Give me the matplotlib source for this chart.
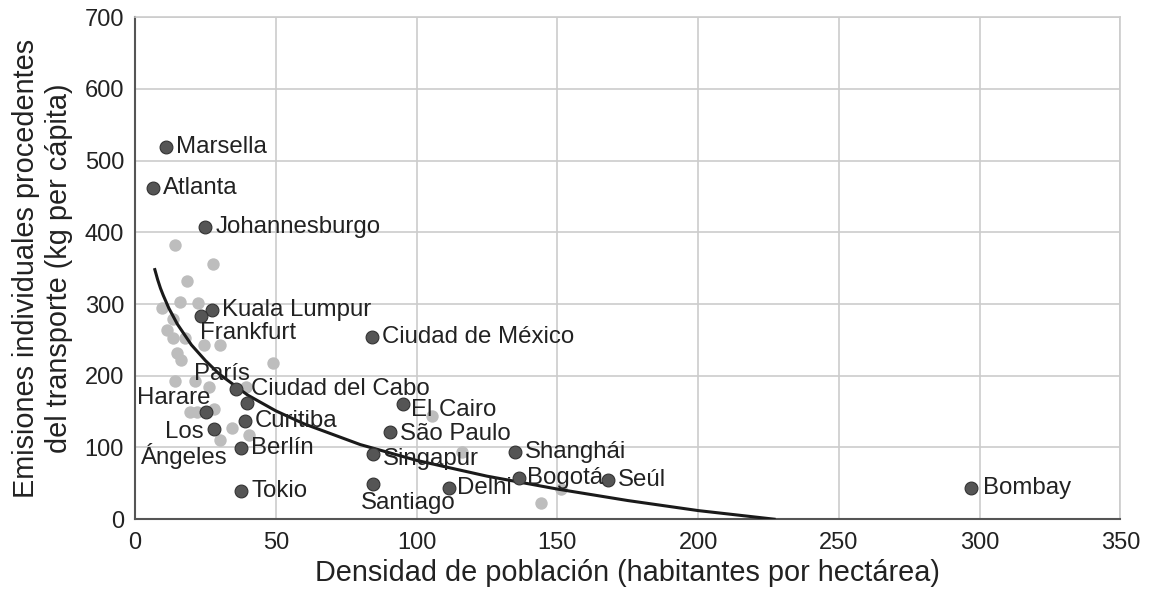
import matplotlib
matplotlib.use("Agg")
import matplotlib.pyplot as plt

plt.rcParams['font.family'] = ['Liberation Sans', 'DejaVu Sans']

# Named cities (dark points)
cities = ["Marsella", "Atlanta", "Johannesburgo", "Kuala Lumpur", "Frankfurt",
          "Ciudad de México", "París", "Ciudad del Cabo", "Harare", "Curitiba",
          "Los\nÁngeles", "Berlín", "Tokio", "Santiago", "Singapur", "São Paulo",
          "El Cairo", "Delhi", "Shanghái", "Bogotá", "Seúl", "Bombay"]
city_density = [11.0, 6.4, 24.9, 27.3, 23.4, 84.2, 35.8, 39.7, 25.3, 39.1,
                28.1, 37.6, 37.7, 84.5, 84.5, 90.4, 95.1, 111.6, 134.8, 136.2, 167.9, 297]
city_emissions = [519, 462, 407, 292, 283, 254, 181, 162, 150, 137,
                  126, 99, 39, 49, 91, 121, 161, 44, 94, 58, 54, 44]

# Other cities (light points)
other_density = [14.0, 27.6, 18.6, 15.8, 22.5, 9.5, 13.6, 11.3, 13.6, 17.8, 24.3, 30.2,
                 14.8, 16.3, 49.0, 14.2, 21.4, 26.1, 39.5, 19.6, 22.0, 28.1, 34.4,
                 30.2, 40.3, 105.4, 116.1, 144.2, 151.3]
other_emissions = [382, 356, 332, 303, 301, 294, 279, 264, 253, 253, 243, 243,
                   232, 222, 218, 192, 193, 185, 185, 150, 150, 154, 127,
                   111, 118, 144, 93, 22, 42]

# Trend line
trend_x = [7, 8, 9, 10, 12, 15, 20, 25, 30, 40, 50, 60, 80, 100, 125, 150, 175, 200, 227]
trend_y = [348, 334, 322, 312, 294, 272, 243, 221, 202, 173, 151, 133, 104, 82, 60, 42, 26, 12, 0]

# label placement: (dx px, dy px, ha)
label_pos = {
    "Frankfurt": (-1, -17, "left"),
    "París": (-14, 15, "center"),
    "Ciudad del Cabo": (4, 14, "left"),
    "Harare": (4, 14, "right"),
    "Los\nÁngeles": (-30, -16, "center"),
    "Santiago": (35, -19, "center"),
    "Singapur": (10, -5, "left"),
    "São Paulo": (10, -2, "left"),
    "El Cairo": (8, -6, "left"),
    "Delhi": (8, 0, "left"),
    "Bogotá": (8, 0, "left"),
    "Bombay": (12, 0, "left"),
}

fig = plt.figure(figsize=(11.55, 5.92), dpi=100)
ax = fig.add_axes([0.117, 0.123, 0.853, 0.848])

ax.scatter(other_density, other_emissions, s=80, color="#bdbdbd", linewidths=0, zorder=2)
ax.plot(trend_x, trend_y, color="#1a1a1a", lw=2.2, zorder=3)
ax.scatter(city_density, city_emissions, s=85, color="#555555", edgecolors="#333333",
           linewidths=0.8, zorder=4)

for name, x, y in zip(cities, city_density, city_emissions):
    dx, dy, ha = label_pos.get(name, (10, 0, "left"))
    ax.annotate(name, (x, y), xytext=(dx, dy), textcoords="offset pixels",
                ha=ha, va="center", fontsize=17.3, color="#222222", zorder=5,
                linespacing=1.0)

ax.set_xlim(0, 350)
ax.set_ylim(0, 700)
ax.set_xticks(range(0, 351, 50))
ax.set_yticks(range(0, 701, 100))
ax.grid(True, color="#cccccc", lw=1.2, zorder=0)
ax.set_axisbelow(True)
ax.tick_params(length=0, labelsize=17, colors="#222222")
ax.tick_params(axis="x", pad=9)
ax.tick_params(axis="y", pad=8)

for side in ["top", "right"]:
    ax.spines[side].set_color("#cccccc")
    ax.spines[side].set_linewidth(1.2)
for side in ["left", "bottom"]:
    ax.spines[side].set_color("#555555")
    ax.spines[side].set_linewidth(1.5)

ax.set_xlabel("Densidad de población (habitantes por hectárea)", fontsize=20.8, color="#222222", labelpad=4)
ax.set_ylabel("Emisiones individuales procedentes\ndel transporte (kg per cápita)", fontsize=20.8,
              color="#222222", labelpad=8, linespacing=1.25)

fig.savefig("out.png", dpi=100)
